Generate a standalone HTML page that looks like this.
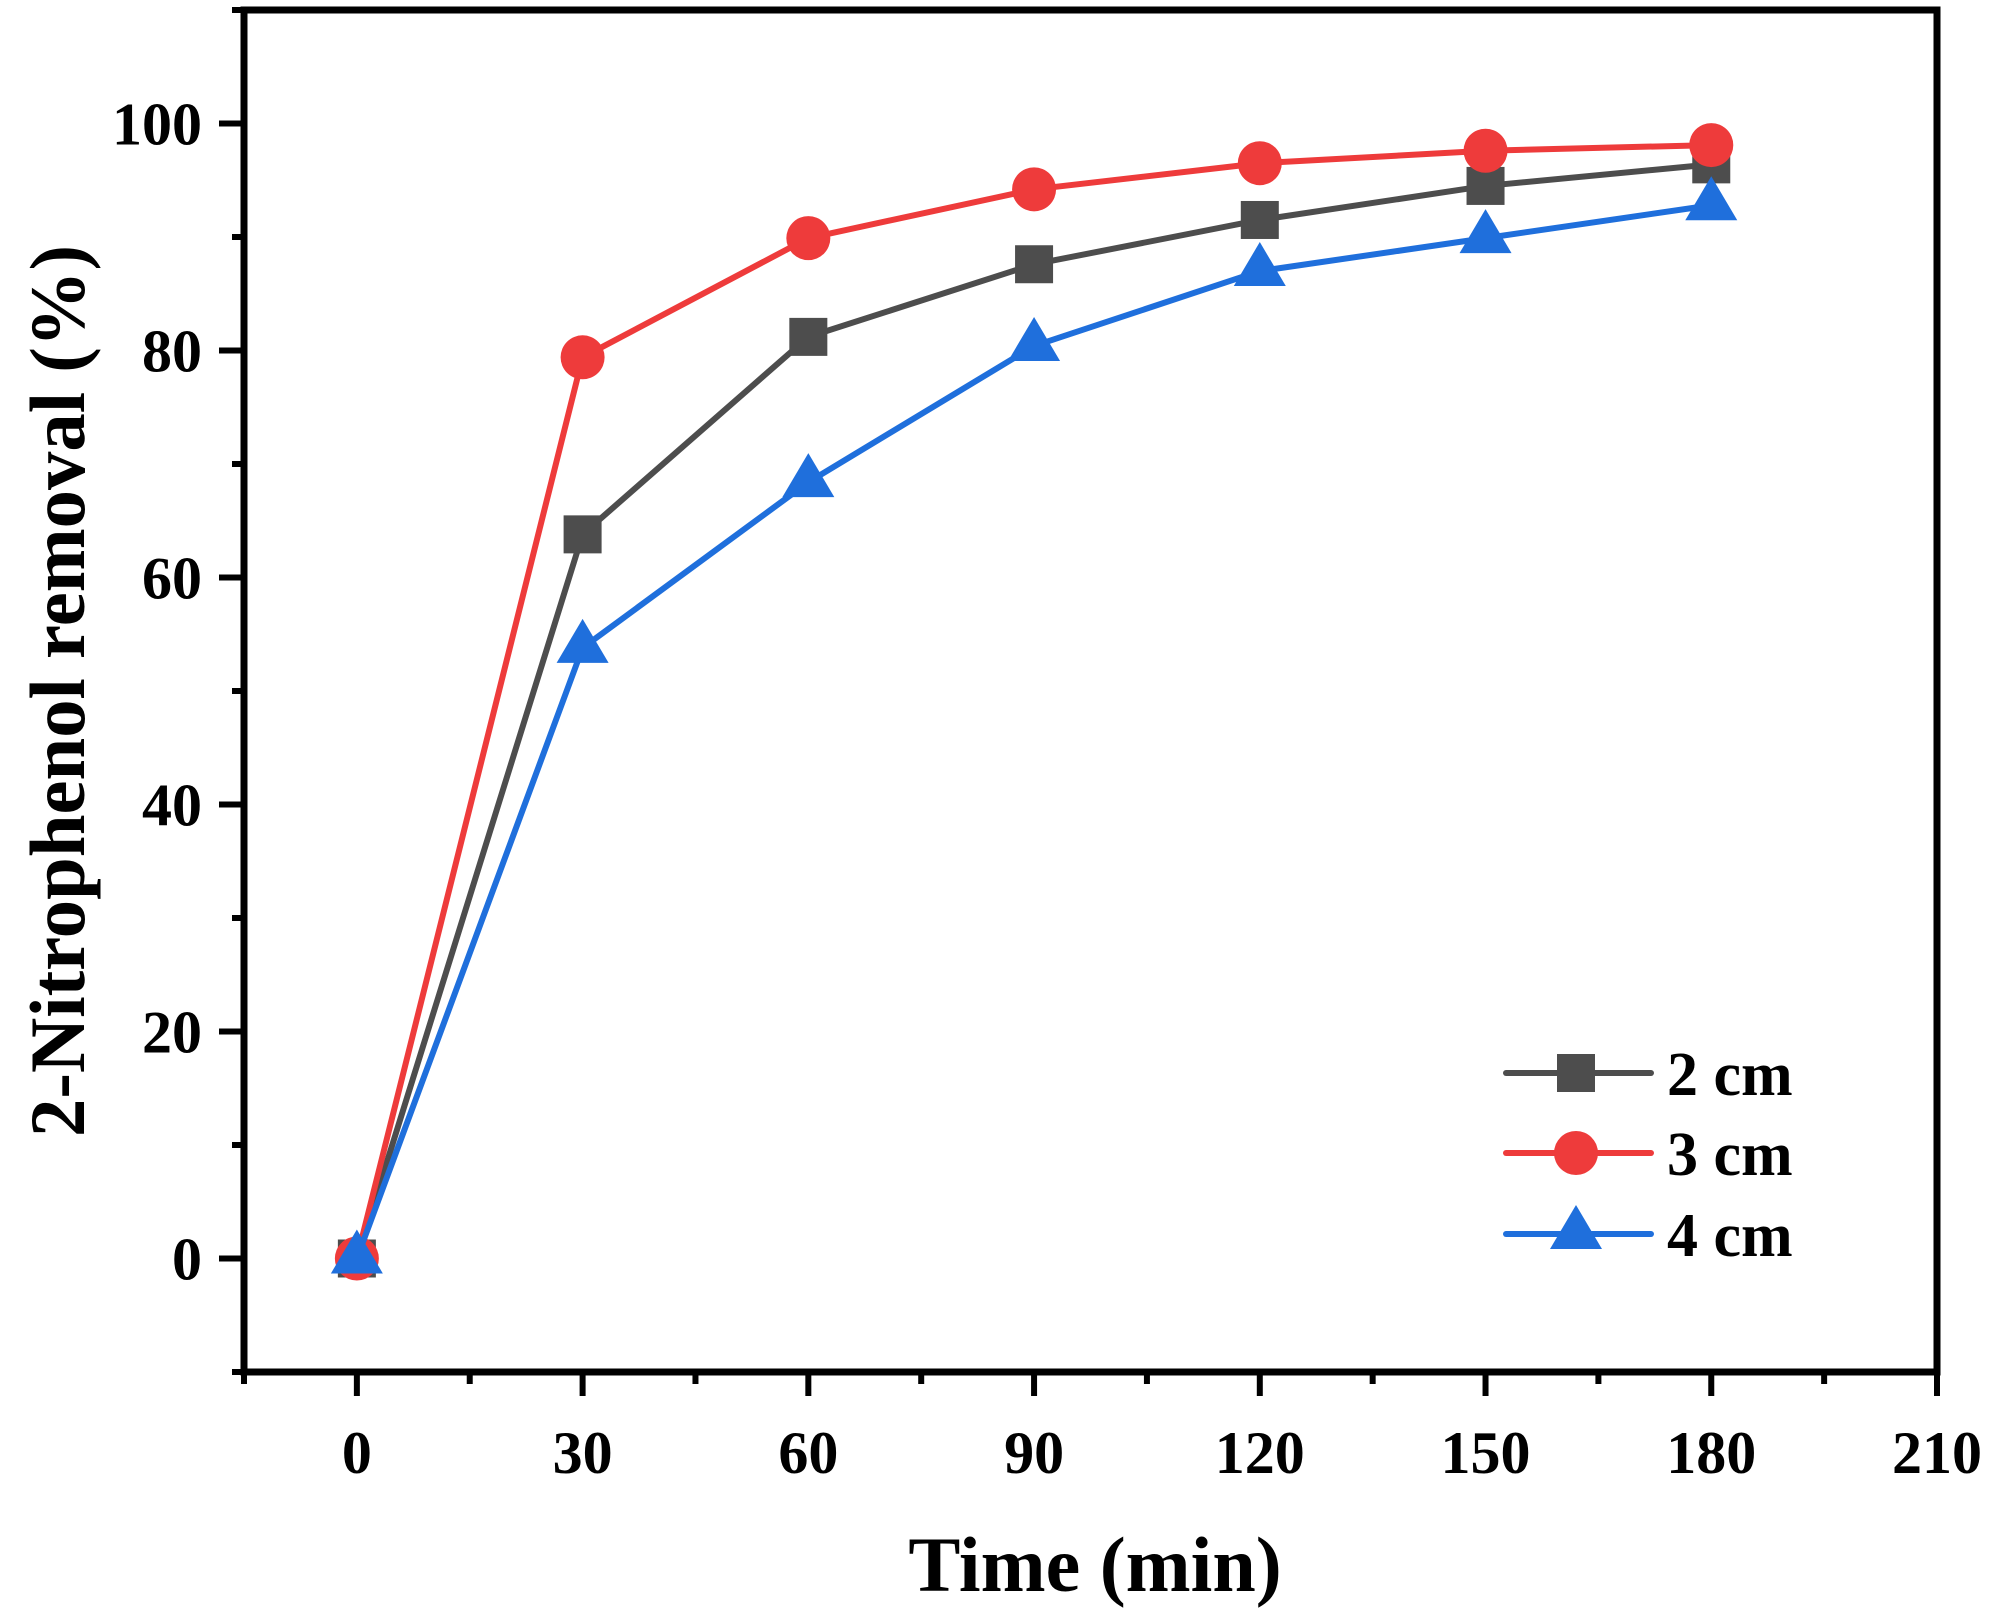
<!DOCTYPE html>
<html><head><meta charset="utf-8"><style>
html,body{margin:0;padding:0;background:#fff;}
svg{display:block;font-family:"Liberation Serif",serif;font-weight:bold;}
</style></head><body>
<svg id="chart" width="1999" height="1618" viewBox="0 0 1999 1618" xmlns="http://www.w3.org/2000/svg">
<g id="grid"></g>
</svg>
<script>
const times = [0, 30, 60, 90, 120, 150, 180];
const series2cm = [0, 63.8, 81.2, 87.6, 91.5, 94.5, 96.4];
const series3cm = [0, 79.4, 89.9, 94.2, 96.5, 97.6, 98.1];
const series4cm = [0, 53.8, 68.4, 80.4, 87.0, 89.9, 92.8];
const xTicks = [0, 30, 60, 90, 120, 150, 180, 210];
const yTicks = [0, 20, 40, 60, 80, 100];
const legendLabels = ["2 cm", "3 cm", "4 cm"];

const NS = "http://www.w3.org/2000/svg";
const svg = document.getElementById('chart');
const L = 244, R = 1937, T = 10, B = 1372;
const xMin = -15, xMax = 210, yMin = -10, yMax = 110;
function sx(v){ return L + (v - xMin) / (xMax - xMin) * (R - L); }
function sy(v){ return B - (v - yMin) / (yMax - yMin) * (B - T); }
function mk(tag, attrs, parent){
  const e = document.createElementNS(NS, tag);
  for (const k in attrs) e.setAttribute(k, attrs[k]);
  (parent || svg).appendChild(e);
  return e;
}

// axes frame
let frame = mk('rect', {x:L, y:T, width:R-L, height:B-T, fill:'none', stroke:'#000', 'stroke-width':7});



// x ticks
for (let v = -15; v <= 210; v += 15) {
  const major = (v % 30 === 0);
  const t = mk('line', {x1:sx(v), x2:sx(v), y1:B, y2:B + (major ? 24 : 12), stroke:'#000', 'stroke-width':6});
  
  
}
xTicks.forEach(v => {
  const t = mk('text', {x:sx(v), y:1473, 'text-anchor':'middle', 'font-size':60});
  t.textContent = v;
  
  
});
// y ticks
for (let v = -10; v <= 110; v += 10) {
  const major = (v % 20 === 0);
  const t = mk('line', {x1:L, x2:L - (major ? 25 : 12), y1:sy(v), y2:sy(v), stroke:'#000', 'stroke-width':6});
  
  
}
yTicks.forEach(v => {
  const t = mk('text', {x:202, y:sy(v) + 21, 'text-anchor':'end', 'font-size':60});
  t.textContent = v;
  
  
});

// axis titles
let xt = mk('text', {x:1095, y:1591, 'text-anchor':'middle', 'font-size':78});
xt.textContent = 'Time (min)';


let yt = mk('text', {x:0, y:0, 'text-anchor':'middle', 'font-size':78, transform:'translate(84,691) rotate(-90)', textLength:892, lengthAdjust:'spacingAndGlyphs'});
yt.textContent = '2-Nitrophenol removal (%)';



const colors = ['#4d4d4d', '#ee3b3b', '#1f6fdc'];
const shapes = ['square', 'circle', 'triangle'];
function marker(shape, x, y, color, parent){
  if (shape === 'square') return mk('rect', {x:x-19, y:y-19, width:38, height:38, fill:color}, parent);
  if (shape === 'circle') return mk('circle', {cx:x, cy:y, r:22, fill:color}, parent);
  return mk('polygon', {points:`${x},${y-29} ${x-26},${y+15} ${x+26},${y+15}`, fill:color}, parent);
}
const allSeries = [series2cm, series3cm, series4cm];
const names = ['series-2cm', 'series-3cm', 'series-4cm'];
allSeries.forEach((s, i) => {
  const g = mk('g', {});
  
  
  const pts = s.map((v, j) => sx(times[j]) + ',' + sy(v)).join(' ');
  const pl = mk('polyline', {points:pts, fill:'none', stroke:colors[i], 'stroke-width':6, 'stroke-linejoin':'round'}, g);
  
  
  s.forEach((v, j) => {
    const m = marker(shapes[i], sx(times[j]), sy(v), colors[i], g);
    
    
  });
});

// legend
const legY = [1073, 1153, 1234];
legendLabels.forEach((lab, i) => {
  const g = mk('g', {});
  
  
  mk('line', {x1:1506, x2:1651, y1:legY[i], y2:legY[i], stroke:colors[i], 'stroke-width':6, 'stroke-linecap':'round'}, g);
  marker(shapes[i], 1576, legY[i], colors[i], g);
  const t = mk('text', {x:1667, y:legY[i] + 22, 'font-size':62}, g);
  t.textContent = lab;
});
</script>
</body></html>
